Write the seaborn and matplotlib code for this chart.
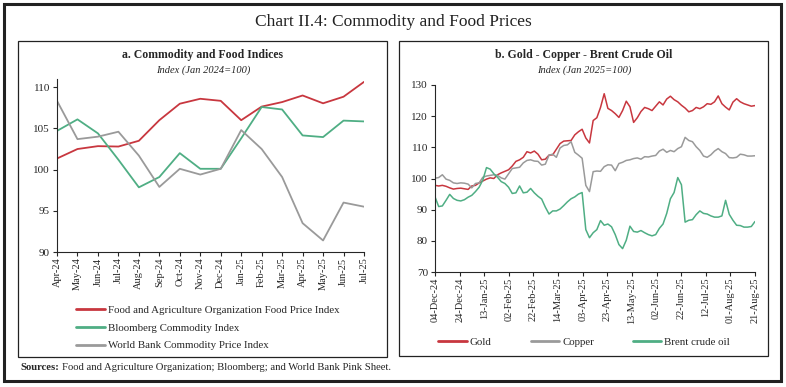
import numpy as np
import pandas as pd
import matplotlib
matplotlib.use("Agg")
import matplotlib.pyplot as plt
import matplotlib.dates as mdates
from matplotlib.patches import Rectangle
import seaborn as sns

# Panel a: monthly indices (Jan 2024=100)
MONTHS = ["Apr-24", "May-24", "Jun-24", "Jul-24", "Aug-24", "Sep-24", "Oct-24", "Nov-24",
          "Dec-24", "Jan-25", "Feb-25", "Mar-25", "Apr-25", "May-25", "Jun-25", "Jul-25"]
FAO = [101.35, 102.5, 102.85, 102.8, 103.5, 106.0, 108.0, 108.6,
       108.35, 106.0, 107.65, 108.2, 109.0, 108.05, 108.85, 110.65]
BLOOMBERG = [104.7, 106.1, 104.4, 101.2, 97.85, 99.1, 102.0, 100.1,
             100.1, 103.8, 107.6, 107.3, 104.15, 103.95, 105.95, 105.85]
WORLD_BANK = [108.35, 103.7, 104.0, 104.6, 101.7, 97.9, 100.1, 99.4,
              100.1, 104.8, 102.5, 99.1, 93.5, 91.4, 96.0, 95.5]

# Panel b: daily-ish readings (Jan 2025=100), 04-Dec-24 to 21-Aug-25
GOLD = [97.8, 97.6, 97.8, 97.5, 97.0, 96.6, 96.8, 96.9, 96.7, 96.5,
        97.6, 97.8, 98.6, 99.2, 99.8, 100.2, 100.0, 101.2, 101.8, 102.3,
        102.8, 104.0, 105.5, 106.0, 106.8, 108.6, 108.2, 108.8, 107.8, 106.0,
        106.2, 107.5, 107.6, 109.4, 111.2, 112.0, 112.1, 112.2, 114.0, 115.0,
        115.8, 113.0, 111.4, 118.6, 119.5, 122.8, 127.2, 122.5, 121.8, 120.8,
        119.6, 121.8, 124.8, 123.0, 118.0, 119.5, 121.5, 122.8, 122.4, 121.8,
        123.2, 124.6, 123.6, 125.5, 126.4, 125.3, 124.6, 123.5, 122.6, 121.4,
        121.8, 122.8, 122.4, 123.0, 124.0, 123.8, 124.6, 126.5, 124.0, 122.9,
        122.0, 124.5, 125.6, 124.6, 124.0, 123.6, 123.2, 123.4]
COPPER = [100.1, 100.3, 101.2, 99.8, 99.4, 98.6, 98.4, 98.6, 98.5, 98.2,
          97.0, 98.4, 98.6, 100.4, 100.8, 101.0, 101.2, 101.0, 100.2, 99.8,
          101.5, 103.2, 103.4, 103.6, 105.0, 105.8, 106.0, 105.6, 105.5, 104.3,
          104.6, 107.5, 107.8, 106.8, 109.8, 110.6, 110.8, 111.8, 108.4, 107.5,
          106.5, 97.8, 95.8, 102.2, 102.4, 102.3, 103.8, 104.4, 104.3, 102.5,
          104.8, 105.2, 105.8, 106.0, 106.4, 106.6, 106.2, 107.0, 106.9, 107.2,
          107.4, 108.8, 109.4, 108.4, 109.0, 108.6, 109.6, 110.2, 113.2, 112.2,
          111.8, 110.2, 109.0, 107.2, 106.8, 107.6, 108.8, 109.6, 108.6, 108.0,
          106.7, 106.6, 106.8, 107.8, 107.6, 107.2, 107.2, 107.3]
BRENT = [94.1, 91.0, 91.2, 93.0, 94.9, 93.6, 93.0, 92.8, 93.2, 94.0,
         94.6, 95.8, 97.2, 99.5, 103.5, 103.0, 101.5, 100.4, 99.0, 98.4,
         97.2, 95.2, 95.4, 97.6, 95.4, 95.6, 96.8, 95.4, 94.3, 93.4,
         90.8, 88.6, 89.6, 89.6, 90.2, 91.3, 92.5, 93.5, 94.1, 95.0,
         95.5, 83.6, 81.0, 82.6, 83.6, 86.5, 85.0, 85.4, 84.5, 82.0,
         78.8, 77.5, 80.2, 84.7, 83.0, 82.8, 83.3, 82.6, 82.0, 81.6,
         82.0, 84.0, 85.4, 88.8, 93.5, 95.5, 100.3, 98.0, 86.0, 86.6,
         86.8, 88.4, 89.6, 88.8, 88.6, 88.0, 87.6, 87.6, 88.0, 93.0,
         88.5, 86.6, 85.0, 84.9, 84.4, 84.4, 84.6, 86.2]
DATES = pd.date_range("2024-12-04", "2025-08-21", periods=len(GOLD))

RED = "#c8373f"
GREEN = "#4fae84"
GRAY = "#9a9a9a"

sns.set_style("ticks")
plt.rcParams["font.family"] = ["Liberation Serif", "DejaVu Serif"]

W, H = 786, 387
fig = plt.figure(figsize=(W / 100, H / 100), dpi=100)


def fx(px):
    return px / W


def fy(py):
    return 1 - py / H


# frames
fig.patches.append(Rectangle((fx(4), fy(381)), fx(777), (377) / H, transform=fig.transFigure,
                             fill=False, lw=2.2, ec="#222222"))
fig.patches.append(Rectangle((fx(18), fy(357)), fx(369), 316 / H, transform=fig.transFigure,
                             fill=False, lw=0.9, ec="#222222"))
fig.patches.append(Rectangle((fx(399), fy(356)), fx(369), 315 / H, transform=fig.transFigure,
                             fill=False, lw=0.9, ec="#222222"))

fig.text(fx(393), fy(22), "Chart II.4: Commodity and Food Prices", ha="center", va="center",
         fontsize=12.5, color="#222222")
fig.text(fx(203), fy(55), "a. Commodity and Food Indices", ha="center", va="center",
         fontsize=8.5, fontweight="bold")
fig.text(fx(203), fy(70), "Index (Jan 2024=100)", ha="center", va="center",
         fontsize=7.5, style="italic")
fig.text(fx(584), fy(55), "b. Gold - Copper - Brent Crude Oil", ha="center", va="center",
         fontsize=8.5, fontweight="bold")
fig.text(fx(584), fy(70), "Index (Jan 2025=100)", ha="center", va="center",
         fontsize=7.5, style="italic")
fig.text(fx(20), fy(368), "Sources:", ha="left", va="center", fontsize=7.7, fontweight="bold")
fig.text(fx(62), fy(368), "Food and Agriculture Organization; Bloomberg; and World Bank Pink Sheet.",
         ha="left", va="center", fontsize=7.7)

# Panel a
ax1 = fig.add_axes([fx(57), fy(252), fx(307), (252 - 79) / H])
df_a = pd.DataFrame({"month": MONTHS, "FAO": FAO, "BBG": BLOOMBERG, "WB": WORLD_BANK})
sns.lineplot(data=df_a, x="month", y="FAO", color=RED, lw=1.3, ax=ax1,
             label="Food and Agriculture Organization Food Price Index")
sns.lineplot(data=df_a, x="month", y="BBG", color=GREEN, lw=1.3, ax=ax1,
             label="Bloomberg Commodity Index")
sns.lineplot(data=df_a, x="month", y="WB", color=GRAY, lw=1.3, ax=ax1,
             label="World Bank Commodity Price Index")
ax1.set_xlim(0, len(MONTHS) - 1)
ax1.set_ylim(90, 111)
ax1.set_yticks([90, 95, 100, 105, 110])
ax1.set_xlabel("")
ax1.set_ylabel("")
ax1.tick_params(axis="x", rotation=90, labelsize=7.5, length=3, width=0.8, pad=1)
ax1.tick_params(axis="y", labelsize=8, length=3, width=0.8, pad=2)
sns.despine(ax=ax1)
leg1 = ax1.legend(loc="upper left", bbox_to_anchor=(fx(72), fy(301)), bbox_transform=fig.transFigure,
                  frameon=False, fontsize=7.8, handlelength=2.6, labelspacing=0.75,
                  handletextpad=0.3, borderaxespad=0)
for line in leg1.get_lines():
    line.set_linewidth(2)

# Panel b
ax2 = fig.add_axes([fx(435), fy(272), fx(320), (272 - 85) / H])
df_b = pd.DataFrame({"date": DATES, "Gold": GOLD, "Copper": COPPER, "Brent": BRENT})
sns.lineplot(data=df_b, x="date", y="Gold", color=RED, lw=1.1, ax=ax2, label="Gold")
sns.lineplot(data=df_b, x="date", y="Copper", color=GRAY, lw=1.1, ax=ax2, label="Copper")
sns.lineplot(data=df_b, x="date", y="Brent", color=GREEN, lw=1.1, ax=ax2, label="Brent crude oil")
ticks_b = pd.date_range("2024-12-04", periods=14, freq="20D")
ax2.set_xticks(ticks_b)
ax2.xaxis.set_major_formatter(mdates.DateFormatter("%d-%b-%y"))
ax2.set_xlim(ticks_b[0], ticks_b[-1])
ax2.set_ylim(70, 130)
ax2.set_yticks(range(70, 131, 10))
ax2.set_xlabel("")
ax2.set_ylabel("")
ax2.tick_params(axis="x", rotation=90, labelsize=7.5, length=3, width=0.8, pad=1)
ax2.tick_params(axis="y", labelsize=8, length=3, width=0.8, pad=2)
sns.despine(ax=ax2)
leg2 = ax2.legend(loc="center left", bbox_to_anchor=(fx(434), fy(342)), bbox_transform=fig.transFigure,
                  ncol=3, frameon=False, fontsize=7.8, handlelength=2.6, columnspacing=3.6,
                  handletextpad=0.3, borderaxespad=0)
for line in leg2.get_lines():
    line.set_linewidth(2)

fig.savefig("out.png", dpi=100)
